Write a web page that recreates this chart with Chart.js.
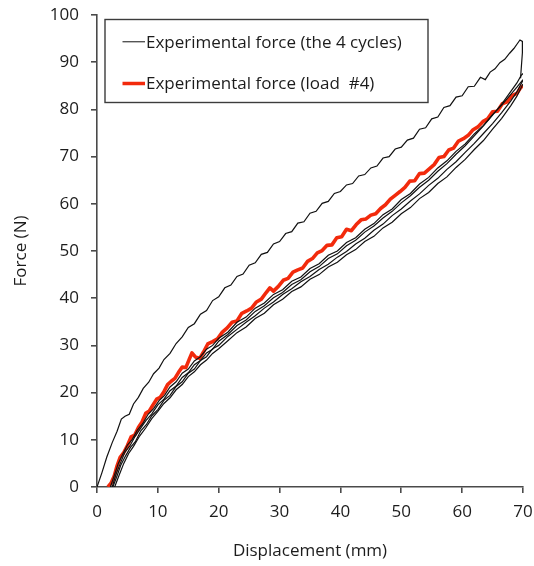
<!DOCTYPE html>
<html>
<head>
<meta charset="utf-8">
<script src="https://cdn.jsdelivr.net/npm/chart.js@4/dist/chart.umd.min.js"></script>
<style>
  html, body { margin: 0; padding: 0; background: #ffffff; }
  canvas { display: block; }
</style>
</head>
<body>
<canvas id="chart" width="534" height="566"></canvas>
<script>
// Force–displacement curves, [displacement mm, force N]

// First cycle: upper branch of the loop, returning at 70 mm
const cycleUpper = [
  [0,0],[0.8,3],[1.6,6.3],[2.5,9.4],[3.3,11.8],[4.0,14.4],[4.6,15.0],[5.3,15.4],[6.0,17.6],[6.8,19.0],
  [7.6,20.9],[8.5,22.2],[9.3,24.0],[10.2,25.2],[11.0,27.0],[12.0,28.3],[13.0,30.4],[14.0,31.8],[15.0,33.8],[16.0,34.6],
  [17.0,36.6],[18.0,37.4],[19.0,39.5],[20.0,40.3],[21.0,42.2],[22.0,42.8],[23.0,44.6],[24.0,45.1],[25.0,47.0],[26.0,47.5],
  [27.0,49.3],[28.0,49.7],[29.0,51.5],[30.0,52.0],[31.0,53.7],[32.0,54.1],[33.0,55.9],[34.0,56.2],[35.0,58.0],[36.0,58.4],
  [37.0,60.1],[38.0,60.5],[39.0,62.2],[40.0,62.6],[41.0,64.0],[42.0,64.3],[43.0,65.9],[44.0,66.2],[45.0,67.6],[46.0,68.0],
  [47.0,69.7],[48.0,70.0],[49.0,71.6],[50.0,72.0],[51.0,73.5],[52.0,73.9],[53.0,75.8],[54.0,76.1],[55.0,78.0],[56.0,78.4],
  [57.0,80.4],[58.0,80.8],[59.0,82.6],[60.0,82.9],[61.0,84.8],[62.0,84.9],[63.0,86.8],[63.8,86.3],[64.6,87.9],[65.4,88.6],
  [66.2,89.9],[67.0,90.6],[67.8,91.9],[68.5,92.9],[69.0,93.8],[69.5,94.7],[69.9,94.4],[69.9,92.0],[69.7,88.5],[69.6,86.6]
];

// Loading branches of the cycles
const cycleA = [
  [2.9,0],[3.6,2.4],[4.4,5.0],[5.2,7.1],[6.0,8.6],[7.0,10.8],[8.0,12.5],[9.0,14.5],[10.0,16.0],[11.0,17.7],
  [12.0,18.9],[13.0,20.6],[14.0,21.7],[15.0,23.4],[16.0,24.4],[17.0,25.9],[18.0,26.9],[19.0,28.3],[20.0,29.3],[21.5,31.0],
  [23.0,32.7],[24.5,33.9],[26.0,35.7],[27.5,36.8],[29.0,38.6],[30.5,39.8],[32.0,41.4],[33.5,42.4],[35.0,44.0],[36.5,45.0],
  [38.0,46.6],[39.5,47.6],[41.0,49.2],[42.5,50.3],[44.0,52.0],[45.5,53.1],[47.0,54.9],[48.5,56.1],[50.0,57.9],[51.5,59.2],
  [53.0,61.1],[54.5,62.4],[56.0,64.3],[57.5,65.7],[59.0,67.7],[60.5,69.4],[62.0,71.5],[63.5,73.4],[65.0,75.8],[66.5,78.1],
  [68.0,80.8],[69.0,82.8],[70.0,85.4]
];
const cycleB = [
  [2.6,0],[3.2,2.0],[3.9,4.6],[4.7,6.6],[5.5,8.4],[6.3,9.6],[7.2,11.9],[8.1,13.2],[9.0,15.1],[10.0,16.4],
  [11.0,18.4],[12.0,19.4],[13.0,21.3],[14.0,22.3],[15.0,24.1],[16.0,25.0],[17.0,26.8],[18.0,27.6],[19.0,29.3],[20.0,30.0],
  [21.5,31.9],[23.0,33.4],[24.5,34.9],[26.0,36.3],[27.5,37.9],[29.0,39.2],[30.5,40.8],[32.0,42.0],[33.5,43.5],[35.0,44.6],
  [36.5,46.1],[38.0,47.2],[39.5,48.7],[41.0,49.9],[42.5,51.5],[44.0,52.7],[45.5,54.4],[47.0,55.7],[48.5,57.5],[50.0,58.9],
  [51.5,60.6],[53.0,62.1],[54.5,63.9],[56.0,65.4],[57.5,67.3],[59.0,68.9],[60.5,70.9],[62.0,72.8],[63.5,74.9],[65.0,77.0],
  [66.5,79.3],[68.0,81.8],[69.0,83.7],[70.0,86.2]
];
const cycleC = [
  [2.5,0],[3.1,2.6],[3.8,4.9],[4.6,7.4],[5.4,8.7],[6.2,10.6],[7.1,12.3],[8.0,14.0],[9.0,15.5],[10.0,17.4],
  [11.0,18.6],[12.0,20.4],[13.0,21.4],[14.0,23.2],[15.0,24.2],[16.0,25.9],[17.0,26.8],[18.0,28.4],[19.0,29.2],[20.0,30.9],
  [21.5,32.3],[23.0,34.2],[24.5,35.4],[26.0,37.2],[27.5,38.4],[29.0,40.1],[30.5,41.2],[32.0,42.9],[33.5,43.9],[35.0,45.6],
  [36.5,46.7],[38.0,48.4],[39.5,49.4],[41.0,51.1],[42.5,52.3],[44.0,54.0],[45.5,55.3],[47.0,57.0],[48.5,58.4],[50.0,60.2],
  [51.5,61.7],[53.0,63.5],[54.5,65.0],[56.0,66.9],[57.5,68.5],[59.0,70.5],[60.5,72.3],[62.0,74.4],[63.5,76.5],[65.0,78.8],
  [66.5,81.1],[68.0,83.8],[69.0,85.6],[69.7,87.2],[70.0,87.6]
];
const cycleD = [
  [2.2,0],[2.8,2.3],[3.5,5.0],[4.2,6.9],[5.0,8.9],[5.8,10.1],[6.6,12.0],[7.5,13.4],[8.4,15.4],[9.3,16.6],
  [10.2,18.3],[11.1,19.4],[12.0,21.2],[13.0,22.3],[14.0,24.1],[15.0,25.0],[16.0,26.7],[17.0,27.6],[18.0,29.2],[19.0,30.0],
  [20.0,31.5],[21.5,32.8],[23.0,34.9],[24.5,36.0],[26.0,37.9],[27.5,39.0],[29.0,40.8],[30.5,41.8],[32.0,43.6],[33.5,44.5],
  [35.0,46.3],[36.5,47.3],[38.0,49.1],[39.5,50.0],[41.0,51.8],[42.5,52.8],[44.0,54.6],[45.5,55.8],[47.0,57.7],[48.5,58.9],
  [50.0,60.9],[51.5,62.2],[53.0,64.2],[54.5,65.6],[56.0,67.6],[57.5,69.1],[59.0,71.1],[60.5,72.7],[62.0,74.8],[63.5,76.6],
  [65.0,78.9],[66.5,80.9],[68.0,83.2],[69.0,84.7],[70.0,86.3]
];

// Load #4
const load4 = [
  [1.8,0],[2.3,0.8],[2.8,2.2],[3.3,4.5],[3.8,6.3],[4.4,7.3],[5.0,8.8],[5.6,10.6],[6.2,11.0],[6.8,12.6],
  [7.4,13.8],[8.0,15.6],[8.6,16.1],[9.2,17.4],[9.8,18.6],[10.4,19.0],[11.0,20.2],[11.6,21.7],[12.2,22.4],[12.8,23.0],
  [13.4,24.3],[14.0,25.4],[14.6,25.3],[15.2,27.2],[15.6,28.4],[16.2,27.5],[16.9,27.3],[17.5,28.6],[18.2,30.3],[19.0,30.8],
  [19.8,31.4],[20.6,32.8],[21.4,33.7],[22.2,34.9],[23.0,35.2],[23.8,36.8],[24.6,37.3],[25.4,37.9],[26.2,39.2],[27.0,39.8],
  [27.8,41.2],[28.4,42.2],[29.0,41.5],[29.8,42.5],[30.6,43.8],[31.4,44.2],[32.2,45.5],[33.0,46.0],[33.8,46.4],[34.6,47.8],
  [35.4,48.4],[36.2,49.6],[37.0,50.1],[37.8,51.2],[38.6,51.3],[39.4,52.8],[40.2,53.0],[41.0,54.6],[41.8,54.3],[42.6,55.6],
  [43.4,56.6],[44.2,56.8],[45.0,57.6],[45.8,57.9],[46.6,59.0],[47.4,59.8],[48.2,61.0],[49.0,61.8],[49.8,62.6],[50.6,63.5],
  [51.4,64.8],[52.2,64.9],[53.0,66.4],[53.8,66.5],[54.6,67.4],[55.4,68.3],[56.2,69.8],[57.0,70.0],[57.8,71.4],[58.6,71.8],
  [59.4,73.3],[60.2,73.8],[61.0,74.5],[61.8,75.7],[62.6,76.3],[63.4,77.4],[64.2,78.0],[65.0,79.5],[65.8,79.6],[66.6,81.2],
  [67.4,81.6],[68.2,82.9],[69.0,83.4],[69.6,84.6],[70.0,85.0]
];

const legendLabels = ['Experimental force (the 4 cycles)', 'Experimental force (load  #4)'];
const xTitle = 'Displacement (mm)';
const yTitle = 'Force (N)';

const FONT = "'Open Sans', 'DejaVu Sans', sans-serif";
const INK = '#1c1c1c';
const AXIS = '#4a4a4a';
const THIN = '#111111';
const RED = '#f22a0c';

const toPts = arr => arr.map(p => ({ x: p[0], y: p[1] }));
const thinSet = arr => ({
  data: toPts(arr), showLine: true, borderColor: THIN, borderWidth: 1.2,
  pointRadius: 0, tension: 0, fill: false
});

// Framed legend drawn inside the plot area
const framedLegend = {
  id: 'framedLegend',
  afterDraw(chart) {
    const ctx = chart.ctx;
    ctx.save();
    ctx.fillStyle = '#ffffff';
    ctx.fillRect(105, 19.5, 323, 83);
    ctx.strokeStyle = '#3c3c3c';
    ctx.lineWidth = 1.4;
    ctx.strokeRect(105, 19.5, 323, 83);
    const rows = [
      { y: 41.7, color: '#555555', width: 1.4 },
      { y: 83.5, color: RED, width: 3.5 }
    ];
    ctx.font = '17px ' + FONT;
    ctx.textBaseline = 'middle';
    ctx.textAlign = 'left';
    rows.forEach((r, i) => {
      ctx.beginPath();
      ctx.strokeStyle = r.color;
      ctx.lineWidth = r.width;
      ctx.moveTo(122.5, r.y);
      ctx.lineTo(145, r.y);
      ctx.stroke();
      ctx.fillStyle = INK;
      ctx.fillText(legendLabels[i], 146, r.y + 1);
    });
    ctx.restore();
  }
};

new Chart(document.getElementById('chart'), {
  type: 'scatter',
  data: {
    datasets: [
      thinSet(cycleUpper),
      thinSet(cycleA),
      thinSet(cycleB),
      thinSet(cycleC),
      thinSet(cycleD),
      {
        data: toPts(load4), showLine: true, borderColor: RED, borderWidth: 3.6,
        pointRadius: 0, tension: 0, fill: false, borderJoinStyle: 'round'
      }
    ]
  },
  options: {
    responsive: false,
    devicePixelRatio: 1,
    animation: false,
    layout: { padding: { top: 15, right: 11, left: 0, bottom: 0 } },
    plugins: { legend: { display: false }, tooltip: { enabled: false } },
    scales: {
      x: {
        type: 'linear', min: 0, max: 70,
        afterFit: s => { s.height = 79; s.paddingLeft = 0; s.paddingRight = 0; },
        border: { display: true, color: AXIS, width: 1.6 },
        grid: { drawOnChartArea: false, drawTicks: true, tickLength: 6, color: AXIS, lineWidth: 1.6 },
        ticks: { stepSize: 10, padding: 9, color: INK, font: { family: FONT, size: 17 } },
        title: { display: true, text: xTitle, color: INK, font: { family: FONT, size: 17 }, padding: { top: 0, bottom: 5 } }
      },
      y: {
        type: 'linear', min: 0, max: 100,
        afterFit: s => { s.width = 97; s.paddingTop = 0; s.paddingBottom = 0; },
        border: { display: true, color: AXIS, width: 1.6 },
        grid: { drawOnChartArea: false, drawTicks: true, tickLength: 6, color: AXIS, lineWidth: 1.6 },
        ticks: { stepSize: 10, padding: 12, color: INK, font: { family: FONT, size: 17 } },
        title: { display: true, text: yTitle, color: INK, font: { family: FONT, size: 17 }, padding: { top: 11, bottom: 0 } }
      }
    }
  },
  plugins: [framedLegend]
});
</script>
</body>
</html>
